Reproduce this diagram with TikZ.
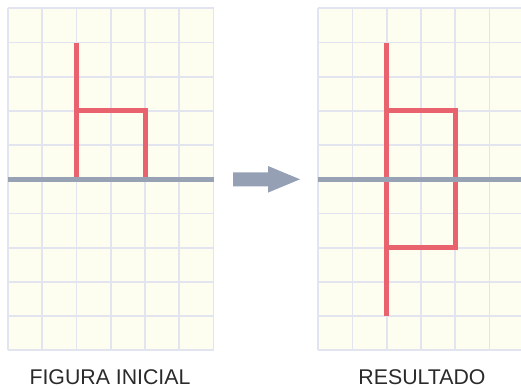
\documentclass[tikz,border=0pt]{standalone}
\usepackage{fontspec}
\setmainfont{Liberation Sans}
\definecolor{bgfill}{HTML}{FEFEF0}
\definecolor{gridc}{HTML}{E2E5F0}
\definecolor{axisc}{HTML}{98A2B5}
\definecolor{redc}{HTML}{E8636D}
\definecolor{arrowc}{HTML}{95A0B5}
\definecolor{textc}{HTML}{2A2A2A}
\begin{document}
\begin{tikzpicture}[x=1pt,y=-1pt,
  gridline/.style={draw=gridc,line width=1.8pt},
  axisline/.style={draw=axisc,line width=5pt},
  shapeline/.style={draw=redc,line width=5pt,line join=miter},
  caption/.style={font=\fontsize{21.3}{24}\selectfont,text=textc,inner sep=0pt,anchor=base}]
\useasboundingbox (0,0) rectangle (521,388);
\begin{scope}
\clip (0,0) rectangle (521,388);
% left grid
\coordinate (L0) at (8,8.3);
\coordinate (L1) at (213.5,350.3);
\fill[bgfill] (L0) rectangle (L1);
\foreach \i in {0,...,6} \draw[gridline] ({8+\i*34.25},8.3) -- ({8+\i*34.25},350.3);
\foreach \j in {0,...,10} \draw[gridline] (8,{8.3+\j*34.2}) -- (213.5,{8.3+\j*34.2});
% right grid
\coordinate (R0) at (318.3,8.3);
\coordinate (R1) at (523.8,350.3);
\fill[bgfill] (R0) rectangle (R1);
\foreach \i in {0,...,6} \draw[gridline] ({318.3+\i*34.25},8.3) -- ({318.3+\i*34.25},350.3);
\foreach \j in {0,...,10} \draw[gridline] (318.3,{8.3+\j*34.2}) -- (523.8,{8.3+\j*34.2});
% left figure
\coordinate (la) at (76.5,42.5);
\coordinate (lb) at (76.5,179.3);
\coordinate (lc) at (76.5,110.9);
\coordinate (ld) at (145,110.9);
\coordinate (le) at (145,179.3);
\draw[shapeline] (la) -- (lb);
\draw[shapeline] (lc) -- (ld) -- (le);
% right figure
\coordinate (ra) at (386.8,42.5);
\coordinate (rb) at (386.8,316.1);
\coordinate (rc) at (386.8,110.9);
\coordinate (rd) at (455.3,110.9);
\coordinate (re) at (455.3,247.7);
\coordinate (rf) at (386.8,247.7);
\draw[shapeline] (ra) -- (rb);
\draw[shapeline] (rc) -- (rd) -- (re) -- (rf);
% axes
\coordinate (axL1) at (8,179.3);
\coordinate (axL2) at (213.5,179.3);
\coordinate (axR1) at (318.3,179.3);
\coordinate (axR2) at (523.8,179.3);
\draw[axisline] (axL1) -- (axL2);
\draw[axisline] (axR1) -- (axR2);
% arrow
\fill[arrowc] (233,172.3) -- (268,172.3) -- (268,166) -- (300,179.3) -- (268,192.6) -- (268,186.3) -- (233,186.3) -- cycle;
\end{scope}
% captions
\node[caption] (capL) at (110,384) {FIGURA INICIAL};
\node[caption] (capR) at (422,384) {RESULTADO};
\end{tikzpicture}
\end{document}
